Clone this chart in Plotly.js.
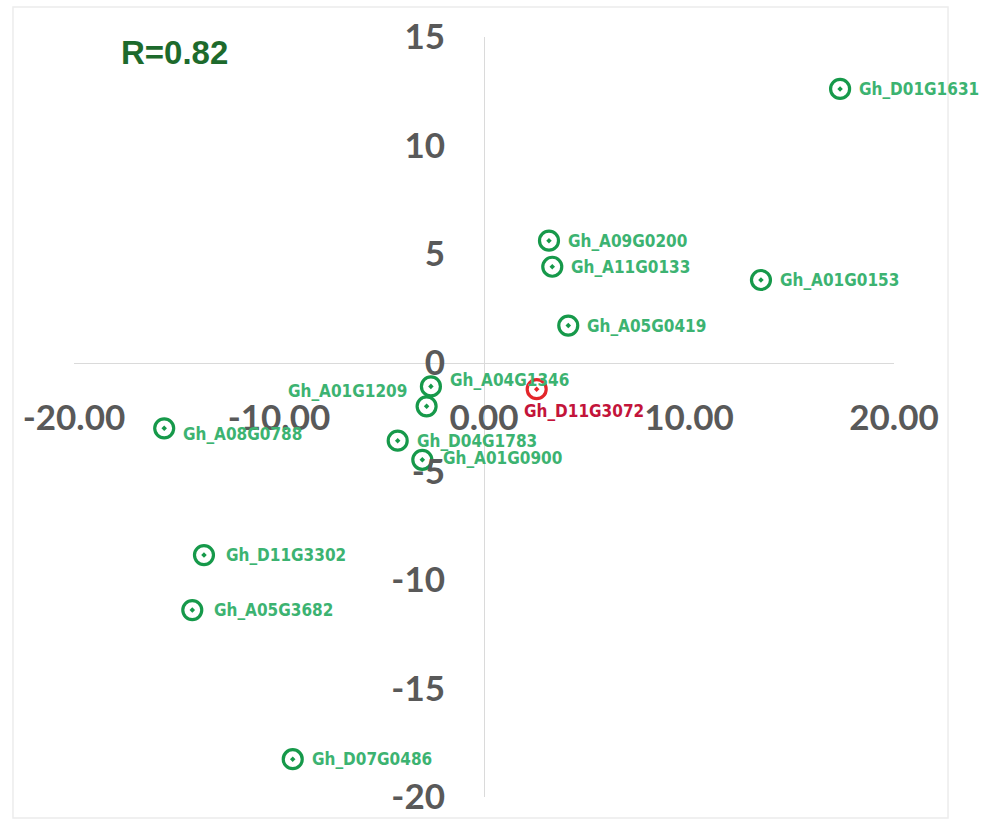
<!DOCTYPE html>
<html>
<head>
<meta charset="utf-8">
<script src="https://cdn.plot.ly/plotly-3.0.1.min.js"></script>
<style>
html,body{margin:0;padding:0;background:#fff;}
#chart{width:992px;height:822px;}
</style>
</head>
<body>
<div id="chart"></div>
<script>
// ---- data ----
const geneNames = ["Gh_D01G1631","Gh_A09G0200","Gh_A11G0133","Gh_A01G0153","Gh_A05G0419",
  "Gh_D11G3072","Gh_A04G1346","Gh_A01G1209","Gh_D04G1783","Gh_A01G0900",
  "Gh_A08G0788","Gh_D11G3302","Gh_A05G3682","Gh_D07G0486"];
const xValues = [17.37, 3.17, 3.33, 13.51, 4.11, 2.57, -2.59, -2.80, -4.21, -3.01, -15.60, -13.66, -14.23, -9.33];
const yValues = [12.61, 5.62, 4.42, 3.81, 1.71, -1.22, -1.09, -2.01, -3.59, -4.47, -3.02, -8.86, -11.39, -18.26];
const highlighted = ["Gh_D11G3072"];
const xTickVals = [-20, -10, 0, 10, 20];
const xTickText = ["-20.00", "-10.00", "0.00", "10.00", "20.00"];
const yTickVals = [15, 10, 5, 0, -5, -10, -15, -20];
const yTickText = ["15", "10", "5", "0", "-5", "-10", "-15", "-20"];
const rLabel = "R=0.82";

// ---- styling ----
const xRange = [-20, 20];
const yRange = [-20, 15];
const green = "#16994a", greenText = "#3cb371";
const red = "#e3262a", redText = "#c3143a";
// label pixel offsets [xshift, yshift, xanchor]
const labelOffsets = {
  "Gh_A04G1346": [17, 6, "left"],
  "Gh_A01G1209": [-18, 15, "right"],
  "Gh_D11G3072": [-15, -22, "left"],
  "Gh_A01G0900": [19, 2, "left"],
  "Gh_A08G0788": [17, -6, "left"],
  "Gh_D11G3302": [20, 0, "left"],
  "Gh_A05G3682": [20, 0, "left"]
};

const isHi = geneNames.map(n => highlighted.includes(n));
const trace = {
  type: "scatter", mode: "markers",
  x: xValues, y: yValues, text: geneNames,
  cliponaxis: false,
  hoverinfo: "text+x+y",
  marker: {
    symbol: "circle-open-dot", size: 19,
    color: isHi.map(h => h ? red : green),
    line: {width: 3.2, color: isHi.map(h => h ? red : green)}
  }
};

const labelFont = "DejaVu Sans Condensed, DejaVu Sans, sans-serif";
const annotations = geneNames.map((n, i) => {
  const o = labelOffsets[n] || [17, 0, "left"];
  return {
    x: xValues[i], y: yValues[i], xref: "x", yref: "y",
    text: "<b>" + n + "</b>", showarrow: false,
    xanchor: o[2], yanchor: "middle", xshift: o[0], yshift: o[1],
    font: {family: labelFont, size: 17, color: isHi[i] ? redText : greenText}
  };
});
annotations.push({
  xref: "paper", yref: "paper", x: 0.122, y: 0.98, xanchor: "center", yanchor: "middle",
  text: "<b>" + rLabel + "</b>", showarrow: false,
  font: {family: "Liberation Sans, Arial, sans-serif", size: 33, color: "#1d6a2c"}
});

const tickFont = {family: "Lato, sans-serif", size: 35, color: "#595959", weight: 700};
const layout = {
  width: 992, height: 822,
  margin: {l: 74, r: 98, t: 37, b: 25},
  paper_bgcolor: "#fff", plot_bgcolor: "#fff",
  showlegend: false,
  xaxis: {
    range: xRange, anchor: "free",
    position: (0 - yRange[0]) / (yRange[1] - yRange[0]),
    tickmode: "array", tickvals: xTickVals, ticktext: xTickText,
    showgrid: false, zeroline: false,
    showline: true, linecolor: "#dadada", linewidth: 1.3,
    ticks: "", ticklabelstandoff: 24,
    tickfont: tickFont
  },
  yaxis: {
    range: yRange, anchor: "free",
    position: (0 - xRange[0]) / (xRange[1] - xRange[0]),
    tickmode: "array", tickvals: yTickVals, ticktext: yTickText,
    showgrid: false, zeroline: false,
    showline: true, linecolor: "#dadada", linewidth: 1.3,
    ticks: "", ticklabelstandoff: 32,
    tickfont: tickFont
  },
  shapes: [{
    type: "rect", xref: "paper", yref: "paper",
    x0: -0.0744, x1: 1.0659, y0: -0.0276, y1: 1.0395,
    line: {color: "#ececec", width: 1.5}, layer: "below"
  }],
  annotations: annotations
};

Plotly.newPlot("chart", [trace], layout, {displayModeBar: false, staticPlot: true});
</script>
</body>
</html>
